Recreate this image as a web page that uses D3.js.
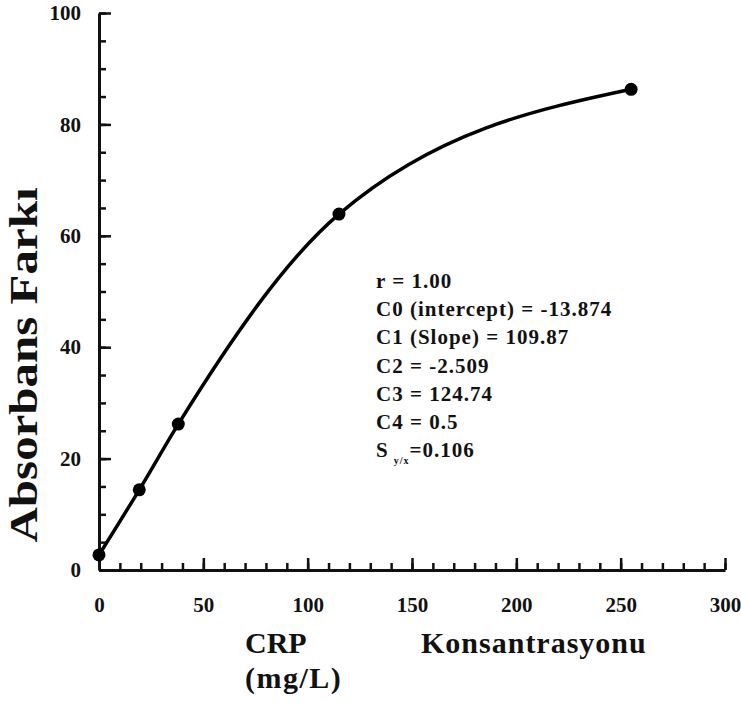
<!DOCTYPE html>
<html>
<head>
<meta charset="utf-8">
<script src="https://cdn.jsdelivr.net/npm/d3@7"></script>
<style>
  body { margin: 0; background: #fff; }
  text { font-family: "Liberation Serif", "Times New Roman", serif; font-weight: bold; fill: #111; }
</style>
</head>
<body>
<script>
// calibration points
var conc = [0, 19.3, 38, 115, 255]
var absDiff = [2.7, 14.4, 26.2, 63.9, 86.3]

var xMajor = [0, 50, 100, 150, 200, 250, 300]
var yMajor = [0, 20, 40, 60, 80, 100]

var statLines = ['r = 1.00', 'C0 (intercept) = -13.874', 'C1 (Slope) = 109.87',
  'C2 = -2.509', 'C3 = 124.74', 'C4 = 0.5']
var seLabel = ['S', 'y/x', '=0.106']

var xTitle = ['CRP', 'Konsantrasyonu', '(mg/L)']
var yTitle = 'Absorbans Farkı'

var width = 741, height = 706

var x = d3.scaleLinear().domain([0, 300]).range([99, 725])
var y = d3.scaleLinear().domain([0, 100]).range([570, 13])

var svg = d3.select('body').append('svg')
  .attr('width', width)
  .attr('height', height)

// minor ticks
svg.append('g')
  .attr('transform', 'translate(0,570)')
  .call(d3.axisBottom(x).tickValues(d3.range(0, 301, 10)).tickSize(-7).tickFormat(''))
  .call(g => g.select('.domain').remove())
  .call(g => g.selectAll('line').attr('stroke', '#111').attr('stroke-width', 2.5))

svg.append('g')
  .attr('transform', 'translate(99,0)')
  .call(d3.axisLeft(y).tickValues(d3.range(0, 101, 5)).tickSize(-7).tickFormat(''))
  .call(g => g.select('.domain').remove())
  .call(g => g.selectAll('line').attr('stroke', '#111').attr('stroke-width', 2.5))

// major ticks + labels
var xAxis = svg.append('g')
  .attr('transform', 'translate(0,570)')
  .call(d3.axisBottom(x).tickValues(xMajor).tickSize(-12).tickSizeOuter(0).tickPadding(27))
xAxis.select('.domain').attr('stroke', '#111').attr('stroke-width', 3)
xAxis.selectAll('line').attr('stroke', '#111').attr('stroke-width', 2.5)
xAxis.selectAll('text').style('font-size', '21px').attr('fill', '#111')

var yAxis = svg.append('g')
  .attr('transform', 'translate(99,0)')
  .call(d3.axisLeft(y).tickValues(yMajor).tickSize(-12).tickSizeOuter(0).tickPadding(18))
yAxis.select('.domain').attr('stroke', '#111').attr('stroke-width', 3)
yAxis.selectAll('line').attr('stroke', '#111').attr('stroke-width', 2.5)
yAxis.selectAll('text').style('font-size', '21px').attr('fill', '#111')

// fitted curve
var line = d3.line()
  .x((d, i) => x(conc[i]))
  .y(d => y(d))
  .curve(d3.curveMonotoneX)

svg.append('path')
  .datum(absDiff)
  .attr('d', line)
  .attr('fill', 'none')
  .attr('stroke', '#000')
  .attr('stroke-width', 3.5)

svg.selectAll('.dot')
  .data(absDiff)
  .enter().append('circle')
  .attr('class', 'dot')
  .attr('cx', (d, i) => x(conc[i]))
  .attr('cy', d => y(d))
  .attr('r', 6.5)
  .attr('fill', '#000')

// regression stats
var stats = svg.append('g').attr('transform', 'translate(376,288)')
stats.selectAll('text')
  .data(statLines)
  .enter().append('text')
  .attr('y', (d, i) => i * 28.2)
  .style('font-size', '21px')
  .style('letter-spacing', '1px')
  .text(d => d)

var se = stats.append('text')
  .attr('y', statLines.length * 28.2)
  .style('font-size', '21px')
  .style('letter-spacing', '1px')
se.append('tspan').text(seLabel[0])
se.append('tspan').attr('dx', 5).attr('dy', 7).style('font-size', '10px').text(seLabel[1])
se.append('tspan').attr('dy', -7).text(seLabel[2])

// axis titles
svg.append('text').attr('x', 245).attr('y', 653).style('font-size', '30px').text(xTitle[0])
svg.append('text').attr('x', 421).attr('y', 653).style('font-size', '30px')
  .style('letter-spacing', '1px').text(xTitle[1])
svg.append('text').attr('x', 245).attr('y', 688).style('font-size', '30px')
  .style('letter-spacing', '1.5px').text(xTitle[2])

svg.append('text')
  .attr('transform', 'translate(37,365) rotate(-90)')
  .attr('text-anchor', 'middle')
  .style('font-size', '41px')
  .attr('textLength', 355)
  .attr('lengthAdjust', 'spacingAndGlyphs')
  .text(yTitle)
</script>
</body>
</html>
